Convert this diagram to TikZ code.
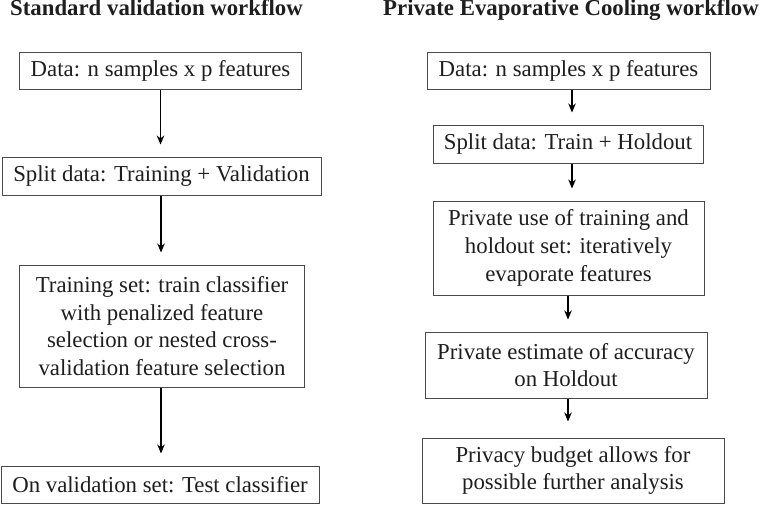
\documentclass[tikz,border=0pt]{standalone}
\usepackage{fontspec}
\setmainfont{Liberation Serif}
\usetikzlibrary{arrows.meta,calc}
\definecolor{txt}{HTML}{1E1E1E}
\definecolor{boxline}{HTML}{4A4A4A}
\tikzset{
  flowbox/.style={draw=boxline, line width=1pt, align=center, inner sep=0pt,
    text=txt, font=\fontsize{22.8}{27.7}\selectfont},
  flowarrow/.style={draw=black, line width=1.2pt, -{Stealth[length=9pt,width=7.5pt]}},
  heading/.style={anchor=base west, inner sep=0pt, text=txt,
    font=\fontsize{22.8}{27}\selectfont\bfseries}
}
\begin{document}
\begin{tikzpicture}[x=1pt,y=-1pt]
\useasboundingbox (0,0) rectangle (760,504);
% titles
\node[heading] (t1) at (10,15.5) {Standard validation workflow};
\node[heading] (t2) at (383,15.5) {Private Evaporative Cooling workflow};
% left column
\node[flowbox, minimum width=282pt, minimum height=37pt] (L1) at (160.5,70.5) {Data: n samples x p features};
\node[flowbox, minimum width=319pt, minimum height=38pt] (L2) at (161.5,176) {Split data: Training + Validation};
\node[flowbox, minimum width=285.5pt, minimum height=122pt] (L3) at (162,326) {Training set: train classifier\\with penalized feature\\selection or nested cross-\\validation feature selection};
\node[flowbox, minimum width=318pt, minimum height=37pt] (L4) at (160,484.5) {On validation set: Test classifier};
% right column
\node[flowbox, minimum width=283pt, minimum height=37pt] (R1) at (568.5,70.5) {Data: n samples x p features};
\node[flowbox, minimum width=270pt, minimum height=38pt] (R2) at (568,144) {Split data: Train + Holdout};
\node[flowbox, minimum width=271pt, minimum height=94pt] (R3) at (568.5,248) {Private use of training and\\holdout set: iteratively\\evaporate features};
\node[flowbox, minimum width=282pt, minimum height=66pt] (R4) at (566,365) {Private estimate of accuracy\\on Holdout};
\node[flowbox, minimum width=302pt, minimum height=65pt] (R5) at (573,470.5) {Privacy budget allows for\\possible further analysis};
% arrows left
\draw[flowarrow] (L1.south) -- ([yshift=12pt]L1.south |- L2.north);
\draw[flowarrow] ([xshift=-0.5pt]L2.south) -- ([yshift=12pt,xshift=-0.5pt]L2.south |- L3.north);
\draw[flowarrow] ([xshift=-1pt]L3.south) -- ([yshift=12pt,xshift=-1pt]L3.south |- L4.north);
% arrows right
\draw[flowarrow] ([xshift=3.5pt]R1.south) -- ([yshift=12pt,xshift=3.5pt]R1.south |- R2.north);
\draw[flowarrow] ([xshift=4pt]R2.south) -- ([yshift=12pt,xshift=4pt]R2.south |- R3.north);
\draw[flowarrow] ([xshift=-0.5pt]R3.south) -- ([yshift=12pt,xshift=-0.5pt]R3.south |- R4.north);
\draw[flowarrow] ([xshift=2pt]R4.south) -- ([yshift=16pt,xshift=2pt]R4.south |- R5.north);
\end{tikzpicture}
\end{document}
